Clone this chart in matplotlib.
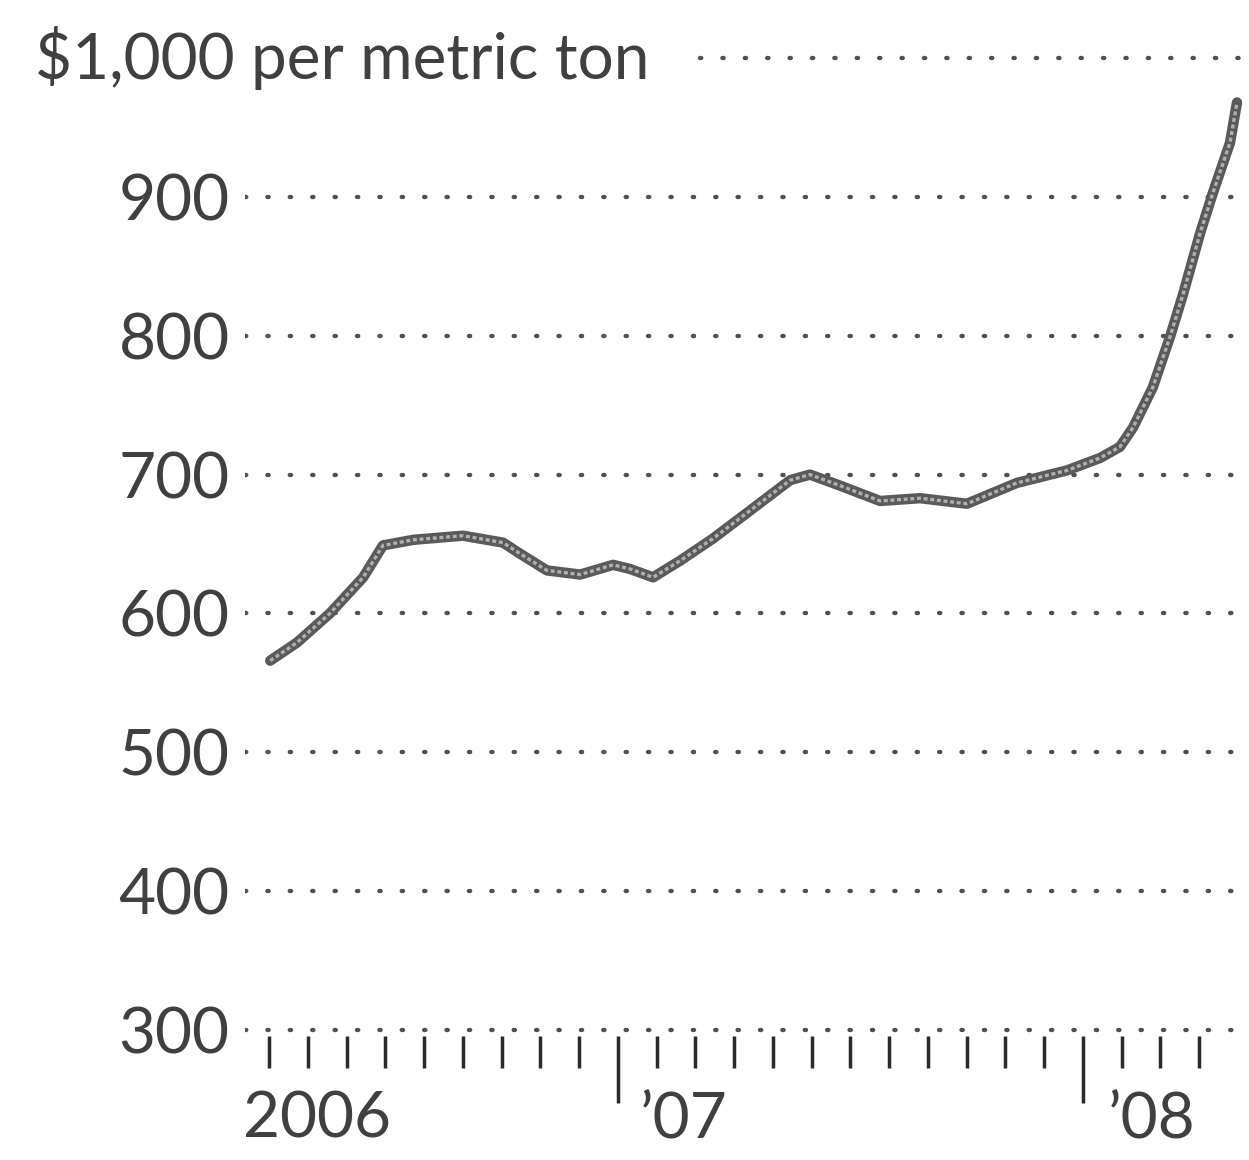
import matplotlib
matplotlib.use("Agg")
import matplotlib.pyplot as plt
import matplotlib.transforms as mtransforms

# Months since Jan 2006 (0 = Jan 2006, 12 = Jan 2007, 24 = Jan 2008)
months = [3.03, 3.72, 4.57, 5.43, 5.94, 6.72, 8.0, 9.04, 9.48, 10.17, 11.03,
          11.88, 12.32, 12.91, 13.61, 14.46, 15.41, 16.45, 16.96, 17.74,
          18.77, 19.8, 21.01, 22.3, 23.59, 24.45, 24.96, 25.3, 25.81, 26.25,
          26.59, 27.03, 27.36, 27.8, 27.98]
price = [566, 579, 600, 626, 649, 653, 656, 651, 643, 631, 628,
         635, 632, 626, 638, 654, 674, 696, 700, 692,
         681, 683, 679, 694, 703, 712, 720, 734, 763, 799,
         830, 874, 903, 939, 968]

y_ticks = [300, 400, 500, 600, 700, 800, 900, 1000]
y_labels = ["300", "400", "500", "600", "700", "800", "900", ""]
top_label = "$1,000 per metric ton"
x_ticks = list(range(3, 28))
major_ticks = [12, 24]
x_labels = ["2006", "\u201907", "\u201908"]
x_label_pos = [2.33, 12.57, 24.65]

plt.rcParams['font.family'] = ['Lato', 'DejaVu Sans']
W, H = 1249, 1160
fig = plt.figure(figsize=(W / 100, H / 100), dpi=100)

left_px, right_px = 245, 1249
top_px, bot_px = 53, 1036
ax = fig.add_axes([left_px / W, 1 - bot_px / H, (right_px - left_px) / W, (bot_px - top_px) / H])
ax.set_xlim(2.38, 28.29)
ax.set_ylim(295.7, 1003.6)
for s in ax.spines.values():
    s.set_visible(False)

text_color = "#404040"
grid_color = "#505050"
for v in y_ticks:
    xmin = 0.0 if v != 1000 else (700 - left_px) / (right_px - left_px)
    ax.axhline(v, xmin=xmin, xmax=1, color=grid_color, lw=3.1,
               linestyle=(0, (0.3, 4.9)), dash_capstyle='round', zorder=1)

ax.set_yticks(y_ticks)
ax.set_yticklabels(y_labels)
ax.tick_params(axis='y', length=0, pad=11, labelsize=46, labelcolor=text_color)

ax.text(-210 / (right_px - left_px), 1000, top_label,
        transform=mtransforms.blended_transform_factory(ax.transAxes, ax.transData),
        ha='left', va='center', fontsize=46, color=text_color)

ax.set_xticks(x_ticks)
ax.set_xticklabels([])
ax.tick_params(axis='x', length=23, width=2.5, color="#2a2a2a", direction='out', pad=0)
for t in ax.xaxis.get_major_ticks():
    if t.get_loc() in major_ticks:
        t.tick1line.set_markersize(48)

trans = mtransforms.blended_transform_factory(ax.transData, ax.transAxes)
for lab, xp in zip(x_labels, x_label_pos):
    ax.text(xp, -(1120 - bot_px) / (bot_px - top_px), lab, transform=trans,
            ha='left', va='center', fontsize=46, color=text_color, clip_on=False)

ax.plot(months, price, color="#5a5a5a", lw=7.5, solid_capstyle='round',
        solid_joinstyle='round', zorder=3)
ax.plot(months, price, color="#b0b0b0", lw=2.4, linestyle=(0, (1.2, 0.8)),
        solid_joinstyle='round', zorder=4)

fig.savefig("out.png", dpi=100, facecolor="white")
